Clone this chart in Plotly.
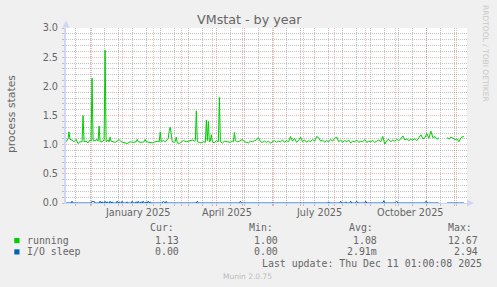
import pandas as pd
import plotly.graph_objects as go

# ---------------- data ----------------
START = pd.Timestamp("2024-11-06 01:00")
END = pd.Timestamp("2025-12-11 01:00")

# running: day offsets from START and values
run_day = [0, 1, 2, 3, 4, 6, 8, 10, 12, 14, 16, 17, 18, 20, 22, 24, 25, 26, 27, 29,
           31, 32, 33, 34, 36, 38, 39, 40, 42, 43, 44, 45, 47,
           49, 51, 53, 55, 58, 61, 64, 67, 70, 71, 72, 75, 78, 79, 80, 83, 86, 89, 92, 93,
           94, 95, 97,
           99, 101, 102, 103, 104, 105, 106, 108, 109, 110, 111, 113, 115, 117, 120, 123,
           126, 128, 129, 130, 131, 133,
           135, 137, 139, 140, 141, 142, 143, 144, 145, 146, 148, 150, 152, 153, 154, 156,
           158, 161, 164, 166, 167, 168, 169, 171, 173, 176, 178, 180, 182, 184, 186, 188,
           190, 192, 194, 196, 198, 200,
           202, 204, 206, 208, 210, 212, 214, 216, 218, 220,
           222, 224, 226, 228, 230, 232, 234, 236, 238, 240,
           242, 244, 246, 248, 250, 252, 254, 256, 258, 260,
           262, 264, 266, 268, 270, 272, 274, 276, 278, 280,
           282, 284, 286, 288, 290, 292, 294, 296, 298, 300,
           302, 304, 306, 308, 310, 312, 314, 316, 318, 320,
           322, 324, 326, 328, 330, 332, 334, 336, 338, 340,
           342, 344, 346, 348, 350, 352, 354, 356, 358, 360,
           362, 364, 366, 368, 370, 372,
           376,
           380, 382, 384, 386, 388, 390, 392, 394, 396, 397]
run_val = [1.05, 1.08, 1.10, 1.22, 1.09, 1.08, 1.05, 1.09, 1.02, 1.05, 1.05, 1.50, 1.05, 1.06, 1.03,
           1.08, 1.06, 2.14, 1.07, 1.07, 1.09, 1.06, 1.32, 1.05, 1.05, 1.08, 2.62, 1.05, 1.08, 1.05,
           1.13, 1.06, 1.05,
           1.04, 1.06, 1.09, 1.05, 1.04, 1.02, 1.05, 1.04, 1.05, 1.09, 1.05, 1.04, 1.05, 1.09, 1.05,
           1.04, 1.03, 1.05, 1.06, 1.05, 1.22, 1.05, 1.07,
           1.05, 1.08, 1.11, 1.24, 1.30, 1.18, 1.05, 1.04, 1.06, 1.13, 1.03, 1.02, 1.05, 1.07, 1.05,
           1.06, 1.08, 1.06, 1.07, 1.58, 1.05, 1.04,
           1.03, 1.05, 1.04, 1.42, 1.07, 1.40, 1.05, 1.06, 1.17, 1.05, 1.03, 1.07, 1.05, 1.81, 1.05,
           1.03, 1.06, 1.05, 1.04, 1.06, 1.05, 1.21, 1.07, 1.05, 1.06, 1.09, 1.05, 1.04, 1.03, 1.06,
           1.05, 1.07, 1.08, 1.12, 1.05, 1.04, 1.06, 1.04,
           1.06, 1.03, 1.05, 1.07, 1.04, 1.06, 1.05, 1.08, 1.04, 1.07,
           1.05, 1.14, 1.06, 1.11, 1.04, 1.07, 1.13, 1.05, 1.08, 1.04,
           1.07, 1.05, 1.09, 1.06, 1.14, 1.12, 1.06, 1.08, 1.04, 1.07,
           1.05, 1.09, 1.06, 1.11, 1.13, 1.05, 1.08, 1.04, 1.07, 1.05,
           1.08, 1.03, 1.06, 1.05, 1.08, 1.04, 1.06, 1.05, 1.09, 1.04,
           1.06, 1.05, 1.07, 1.04, 1.06, 1.08, 1.05, 1.14, 1.01, 1.07,
           1.09, 1.05, 1.08, 1.06, 1.09, 1.07, 1.10, 1.15, 1.08, 1.10,
           1.07, 1.09, 1.08, 1.10, 1.07, 1.12, 1.17, 1.10, 1.12, 1.19,
           1.11, 1.23, 1.12, 1.14, 1.09, 1.12,
           None,
           1.12, 1.10, 1.13, 1.11, 1.09, 1.10, 1.05, 1.12, 1.14, 1.13]

# I/O sleep: day offsets and values
io_day = [0, 5, 6, 7, 25, 26, 27, 28, 29, 33, 34, 35, 36, 37, 38, 39, 40, 41, 42,
          43, 44, 45, 46, 47, 50, 51, 52, 53, 54, 55, 56, 57, 60, 61, 62, 65, 66, 67,
          69, 70, 71, 72, 73, 74, 75, 76, 77, 78, 79, 80, 81, 82, 83, 84, 85,
          96, 97, 98, 99, 100, 101, 130, 131, 132, 173, 174, 175, 261, 262, 263,
          273, 274, 275, 278, 279, 280, 283, 284, 285, 288, 289, 290, 291, 298, 299, 300,
          316, 317, 318, 328, 329, 330, 331, 358, 359, 360, 361, 372, 376, 380, 397]
io_val = [0, 0, 0.03, 0, 0, 0.03, 0.02, 0.03, 0, 0, 0.03, 0, 0.02, 0, 0, 0.03, 0, 0.02, 0,
          0, 0.03, 0, 0.02, 0, 0, 0.03, 0, 0.02, 0, 0, 0.03, 0, 0, 0.02, 0, 0, 0.03, 0,
          0, 0.02, 0, 0.03, 0, 0, 0.02, 0, 0.03, 0, 0, 0.02, 0, 0.03, 0, 0.02, 0,
          0, 0.03, 0.02, 0, 0.03, 0, 0, 0.03, 0, 0, 0.03, 0, 0, 0.02, 0,
          0, 0.03, 0, 0, 0.02, 0, 0, 0.03, 0, 0, 0.02, 0.03, 0, 0, 0.03, 0,
          0, 0.04, 0, 0, 0.02, 0.03, 0, 0, 0.03, 0.02, 0, 0, None, 0, 0]

assert len(run_day) == len(run_val)
assert len(io_day) == len(io_val)

month_label_dates = ["2025-01-16", "2025-04-16", "2025-07-16", "2025-10-16"]
month_labels = ["January 2025", "April 2025", "July 2025", "October 2025"]

series_names = ["running", "I/O sleep"]
series_colors = ["#00CC00", "#0066B3"]
cur_vals = ["1.13", "0.00"]
min_vals = ["1.00", "0.00"]
avg_vals = ["1.08", "2.91m"]
max_vals = ["12.67", "2.94"]

# ---------------- figure ----------------
W, H = 497, 287
PL, PT, PW, PH = 66, 28, 401, 175


def px(x):
    return (x - PL) / PW


def py(y):
    return (PT + PH - y) / PH


FONT = "DejaVu Sans"
MONO = "DejaVu Sans Mono"
FC = "#666666"
GRID = "rgba(143,143,143,0.55)"
MGRID = "rgba(222,79,79,0.4)"
AXIS = "#CFD6F8"

run_x = [START + pd.Timedelta(days=d) for d in run_day]
io_x = [START + pd.Timedelta(days=d) for d in io_day]

fig = go.Figure()
fig.add_trace(go.Scatter(x=io_x, y=io_val, mode="lines", name=series_names[1],
                         xaxis="x", yaxis="y",
                         line=dict(color=series_colors[1], width=1), showlegend=False,
                         hoverinfo="skip"))
fig.add_trace(go.Scatter(x=run_x, y=run_val, mode="lines", name=series_names[0],
                         xaxis="x2", yaxis="y",
                         line=dict(color=series_colors[0], width=1), showlegend=False,
                         hoverinfo="skip"))

xr = [START, END]
fig.update_layout(
    width=W, height=H,
    margin=dict(l=PL, r=W - PL - PW, t=PT, b=H - PT - PH, pad=0),
    paper_bgcolor="#F0F0F0", plot_bgcolor="#FFFFFF",
    showlegend=False,
    xaxis=dict(type="date", range=xr, tickmode="linear", tick0="2024-12-01", dtick="M1",
               showgrid=True, gridcolor=MGRID, griddash="1px,1px", gridwidth=1,
               showticklabels=False, ticks="outside", ticklen=2, tickcolor=MGRID,
               showline=True, linecolor=AXIS, linewidth=1, zeroline=False, fixedrange=True),
    xaxis2=dict(type="date", range=xr, overlaying="x", anchor="y", tickmode="linear",
                tick0="2024-11-16", dtick=14 * 86400000,
                showgrid=True, gridcolor=GRID, griddash="1px,1px", gridwidth=1,
                showticklabels=False, ticks="outside", ticklen=2, tickcolor=GRID,
                showline=False, zeroline=False, fixedrange=True),
    yaxis=dict(range=[0, 3], tickmode="linear", tick0=0, dtick=0.5, tickformat=".1f",
               showgrid=True, gridcolor=MGRID, griddash="1px,1px", gridwidth=1,
               ticks="outside", ticklen=2, tickcolor=MGRID,
               tickfont=dict(family=FONT, size=9.7, color=FC), ticklabelstandoff=2,
               showline=True, linecolor=AXIS, linewidth=2, zeroline=False, fixedrange=True,
               minor=dict(tickmode="linear", tick0=0, dtick=0.1, showgrid=True,
                          gridcolor=GRID, griddash="1px,1px", gridwidth=1,
                          ticks="outside", ticklen=2, tickcolor=GRID)),
)

ann = []
# month labels positioned by the date axis
for d, t in zip(month_label_dates, month_labels):
    ann.append(dict(x=d, xref="x", y=py(212.5), yref="paper", text=t, showarrow=False,
                    xanchor="center", yanchor="middle",
                    font=dict(family=FONT, size=9.7, color=FC)))
# title
ann.append(dict(x=px(249), y=py(19), xref="paper", yref="paper", text="VMstat - by year",
                showarrow=False, xanchor="center", yanchor="middle",
                font=dict(family=FONT, size=12.7, color=FC)))
# y title
ann.append(dict(x=px(11), y=py(114), xref="paper", yref="paper", text="process states",
                showarrow=False, textangle=-90, xanchor="center", yanchor="middle",
                font=dict(family=FONT, size=10.8, color=FC)))
# watermark
ann.append(dict(x=px(485.5), y=py(53.5), xref="paper", yref="paper",
                text="RRDTOOL / TOBI OETIKER", showarrow=False, textangle=90,
                xanchor="center", yanchor="middle",
                font=dict(family=FONT, size=7.5, color="#C8C8C8")))
# footer
ann.append(dict(x=px(247.7), y=py(276), xref="paper", yref="paper", text="Munin 2.0.75",
                showarrow=False, xanchor="center", yanchor="middle",
                font=dict(family=FONT, size=7.5, color="#BBBBBB")))


def mono(text, x, y, anchor="left"):
    ann.append(dict(x=px(x), y=py(y), xref="paper", yref="paper", text=text,
                    showarrow=False, xanchor=anchor, yanchor="middle", borderpad=0,
                    font=dict(family=MONO, size=9.9, color=FC)))


col_x = [149, 248.3, 347.7, 446.7]
for lab, x in zip(["Cur:", "Min:", "Avg:", "Max:"], col_x):
    mono(lab, x, 227.3)

row_y = [240, 251.7]
val_right = [179.5, 279, 378, 478.5]
for i in range(2):
    mono(series_names[i], 26.2, row_y[i])
    for v, xr_ in zip([cur_vals[i], min_vals[i], avg_vals[i], max_vals[i]], val_right):
        mono(v, xr_, row_y[i], anchor="right")
mono("Last update: Thu Dec 11 01:00:08 2025", 482.8, 263.3, anchor="right")

fig.update_layout(annotations=ann)

shapes = []
# legend boxes
for i, c in enumerate(series_colors):
    y0 = 238 + i * 11.3
    shapes.append(dict(type="rect", xref="paper", yref="paper",
                       x0=px(14.3), x1=px(19.5), y0=py(y0), y1=py(y0 + 5.2),
                       fillcolor=c, line=dict(width=0)))
# axis arrows
shapes.append(dict(type="path", xref="paper", yref="paper",
                   path=f"M {px(62.5)} {py(27.5)} L {px(66)} {py(20.5)} L {px(69.5)} {py(27.5)} Z",
                   fillcolor=AXIS, line=dict(width=0)))
shapes.append(dict(type="path", xref="paper", yref="paper",
                   path=f"M {px(467)} {py(199.5)} L {px(474)} {py(203)} L {px(467)} {py(206.5)} Z",
                   fillcolor=AXIS, line=dict(width=0)))
fig.update_layout(shapes=shapes)

fig.write_html("out.html", config=dict(staticPlot=True))
